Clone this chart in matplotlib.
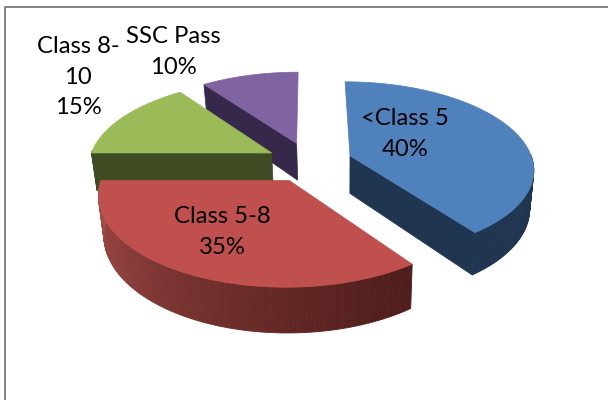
import numpy as np
import matplotlib
matplotlib.use('Agg')
import matplotlib.pyplot as plt
from matplotlib.patches import Polygon
from matplotlib.colors import to_rgb

plt.rcParams['font.family'] = ['Lato', 'DejaVu Sans']

# data
names = ['<Class 5', 'Class 5-8', 'Class 8-\n10', 'SSC Pass']
shares = [40, 35, 15, 10]
top_colors = ['#4f81bd', '#c0504d', '#9bbb59', '#8064a2']
side_colors = ['#1f3550', '#4f1d1b', '#3f4b22', '#35284a']
label_xy = [(405, 134), (222, 232), (78, 77), (173, 52)]

# pie geometry, fitted by eye to the picture
cx, cy = 309.5, 162
rx, ry = 183, 86
persp = 0.14
explode = 0.235
depth = 38
shrink = 0.022
shrink_x = 345


def project(u, v, low=False):
    w = 1 + persp * v
    x = cx + rx * u / w
    y = cy - ry * v / w
    if low:
        x = x - (x - shrink_x) * shrink
        y = y + depth / w
    return x, y


fig = plt.figure(figsize=(6.08, 4.0), dpi=100)
ax = fig.add_axes([0, 0, 1, 1])
ax.set_xlim(0, 608)
ax.set_ylim(400, 0)
ax.axis('off')

# frame, only left and top are in the picture
ax.plot([5, 5, 608], [400, 7, 7], color='#868686', lw=1.44)

edges = np.cumsum([0] + shares) / sum(shares) * 360
# back slices first, red goes last because it covers the green wall
for i in [3, 2, 0, 1]:
    a1, a2 = np.radians(edges[i]), np.radians(edges[i + 1])
    mid = (a1 + a2) / 2
    ou, ov = explode * np.sin(mid), explode * np.cos(mid)
    t = np.linspace(a1, a2, 121)
    u = ou + np.sin(t)
    v = ov + np.cos(t)

    # flat sides
    for a, seen in [(a1, np.sin(a1) < 0), (a2, -np.sin(a2) < 0)]:
        if seen:
            p0 = project(ou, ov)
            p1 = project(ou + np.sin(a), ov + np.cos(a))
            p2 = project(ou + np.sin(a), ov + np.cos(a), True)
            p3 = project(ou, ov, True)
            ax.add_patch(Polygon([p0, p1, p2, p3], fc=side_colors[i], ec=side_colors[i], lw=0.5))

    # rim, red one has the light to dark gradient
    c_dark = np.array(to_rgb(side_colors[i]))
    c_light = np.array(to_rgb('#a94d49')) if i == 1 else c_dark
    for j in range(len(t) - 1):
        if np.cos((t[j] + t[j + 1]) / 2) > 0.03:
            continue
        f = ((t[j] - a1) / (a2 - a1)) ** 1.2
        col = c_dark + (c_light - c_dark) * f if i == 1 else c_dark
        q = [project(u[j], v[j]), project(u[j + 1], v[j + 1]),
             project(u[j + 1], v[j + 1], True), project(u[j], v[j], True)]
        ax.add_patch(Polygon(q, fc=col, ec=col, lw=0.6))

    # top face
    x, y = project(u, v)
    ox, oy = project(ou, ov)
    ax.add_patch(Polygon(np.column_stack([np.r_[ox, x], np.r_[oy, y]]), fc=top_colors[i],
                         ec=top_colors[i], lw=0.5))

for name, share, (lx, ly) in zip(names, shares, label_xy):
    ax.text(lx, ly, f'{name}\n{share}%', ha='center', va='center', fontsize=17.2,
            color='black', linespacing=1.58)

fig.savefig('out.png', dpi=100)
